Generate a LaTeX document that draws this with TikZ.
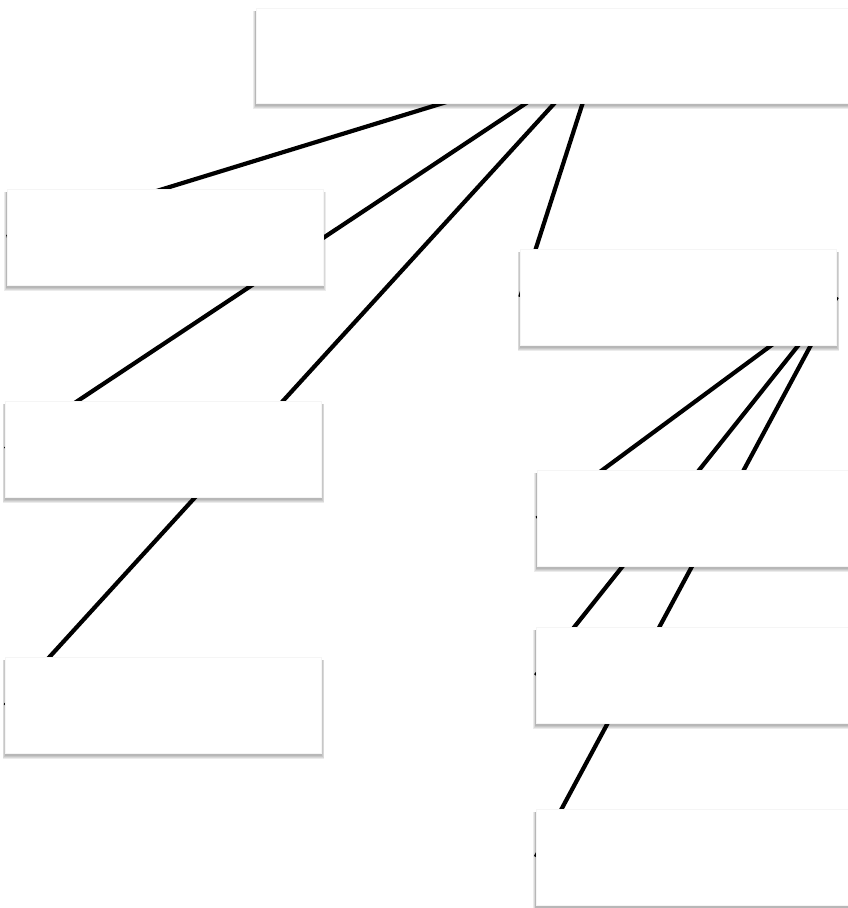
\documentclass[tikz,border=0pt]{standalone}
\pgfdeclarelayer{bg}
\pgfdeclarelayer{sh}
\pgfsetlayers{bg,sh,main}
\begin{document}
\begin{tikzpicture}[x=1pt,y=-1pt,
  card/.style={rectangle, fill=white, draw=black!4, line width=0.5pt, inner sep=0pt,
    minimum width=316pt, minimum height=96pt},
  link/.style={line width=4.2pt, black},
  shade/.style={fill=black, opacity=0.08, draw=none}]
\useasboundingbox (0,0) rectangle (848,908);
\begin{pgfonlayer}{bg}
\fill[white] (0,0) rectangle (848,908);
\end{pgfonlayer}
\node[card, minimum width=684pt, minimum height=95pt] (top) at (598,55.5) {};
\node[card] (a) at (165,237) {};
\node[card] (b) at (678.5,297) {};
\node[card] (c) at (163.5,449) {};
\node[card] (d) at (695,518.5) {};
\node[card] (e) at (163.5,705.5) {};
\node[card] (f) at (694,675.5) {};
\node[card] (g) at (694,857) {};
\begin{pgfonlayer}{sh}
\foreach \n in {top,a,b,c,d,e,f,g}{
  \foreach \r in {0.3,1.0,1.8,2.6}{
    \fill[shade] ([shift={(-\r,3)}]\n.north west) rectangle ([shift={(\r,2+1.3*\r)}]\n.south east);
  }
}
\end{pgfonlayer}
\begin{pgfonlayer}{bg}
\draw[link] (top.center) -- (a.west);
\draw[link] (top.center) -- (c.west);
\draw[link] (top.center) -- (e.west);
\draw[link] (top.center) -- (b.west);
\draw[link] (b.east) -- (d.west);
\draw[link] (b.east) -- (f.west);
\draw[link] (b.east) -- (g.west);
\end{pgfonlayer}
\end{tikzpicture}
\end{document}
